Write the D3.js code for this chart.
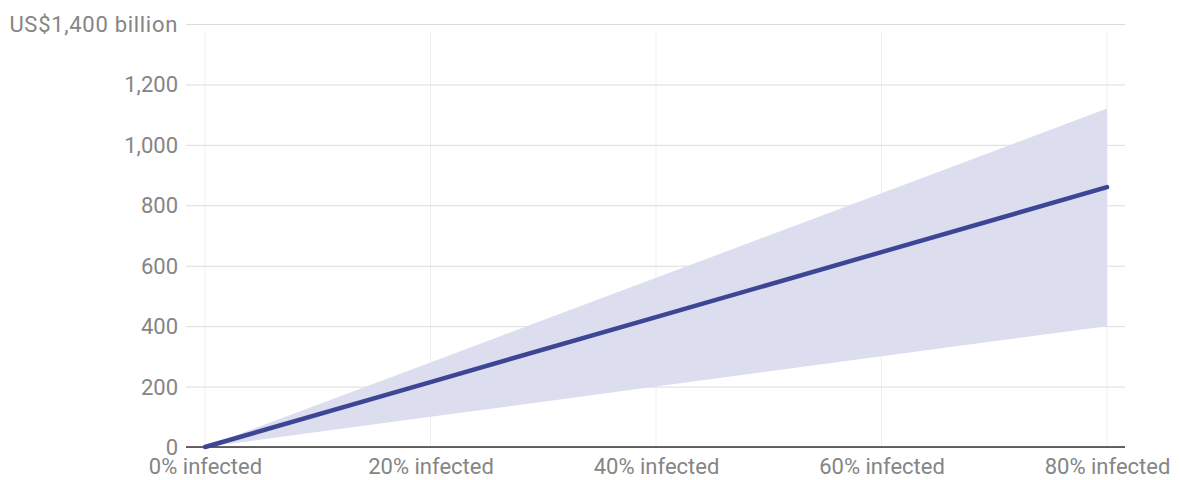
<!DOCTYPE html>
<html>
<head>
<meta charset="utf-8">
<script src="https://cdn.jsdelivr.net/npm/d3@7"></script>
<style>
  body { margin: 0; background: #fff; }
  svg text { font-family: Roboto, "Noto Sans", sans-serif; }
</style>
</head>
<body>
<svg id="chart"></svg>
<script>
// share of population infected (%)
const infected = [0, 20, 40, 60, 80];
// cost estimate, US$ billion
const central = [0, 215, 430, 645, 860];
const upper = [0, 280, 560, 840, 1120];
const lower = [0, 100, 200, 300, 400];
const yTicks = [0, 200, 400, 600, 800, 1000, 1200, 1400];

const width = 1180, height = 480;
const margin = { top: 24, right: 55, bottom: 33, left: 186 };

const svg = d3.select('#chart')
    .attr('width', width)
    .attr('height', height);

const data = infected.map((d, i) => ({ x: d, mid: central[i], hi: upper[i], lo: lower[i] }));

// plot starts a bit right of the grid start
const xScale = d3.scaleLinear()
    .domain([0, 80])
    .range([205, 1107]);

const yScale = d3.scaleLinear()
    .domain([0, 1400])
    .range([height - margin.bottom, margin.top]);

const gridLeft = margin.left, gridRight = width - margin.right;

// vertical grid
svg.append('g')
    .selectAll('line')
    .data(infected)
    .join('line')
    .attr('x1', d => xScale(d)).attr('x2', d => xScale(d))
    .attr('y1', yScale(1400) + 8).attr('y2', yScale(0))
    .attr('stroke', '#efefef')
    .attr('stroke-width', 1);

// horizontal grid + labels
const yAxis = svg.append('g')
    .attr('transform', `translate(${gridLeft},0)`)
    .call(d3.axisLeft(yScale)
        .tickValues(yTicks)
        .tickSize(-(gridRight - gridLeft))
        .tickPadding(8)
        .tickFormat(d => d === 1400 ? 'US$1,400 billion' : d3.format(',')(d)));
yAxis.select('.domain').remove();
yAxis.selectAll('.tick line').attr('stroke', '#dcdcdc');
yAxis.selectAll('.tick text')
    .attr('fill', '#858585')
    .style('font-size', '22px')
    .attr('dy', '0.34em');
// top label is spaced a little wider in the original
yAxis.selectAll('.tick text')
    .filter(d => d === 1400)
    .style('letter-spacing', '0.7px');

// uncertainty band
svg.append('path')
    .datum(data)
    .attr('fill', '#dcdeef')
    .attr('d', d3.area()
        .x(d => xScale(d.x))
        .y0(d => yScale(d.lo))
        .y1(d => yScale(d.hi)));

// baseline
svg.append('line')
    .attr('x1', gridLeft).attr('x2', gridRight)
    .attr('y1', yScale(0)).attr('y2', yScale(0))
    .attr('stroke', '#333')
    .attr('stroke-width', 1.5);

// central estimate
svg.append('path')
    .datum(data)
    .attr('fill', 'none')
    .attr('stroke', '#3d4595')
    .attr('stroke-width', 4.5)
    .attr('stroke-linecap', 'round')
    .attr('d', d3.line()
        .x(d => xScale(d.x))
        .y(d => yScale(d.mid)));

// x axis labels
const xAxis = svg.append('g')
    .attr('transform', `translate(0,${yScale(0)})`)
    .call(d3.axisBottom(xScale)
        .tickValues(infected)
        .tickSize(0)
        .tickPadding(11)
        .tickFormat(d => d + '% infected'));
xAxis.select('.domain').remove();
xAxis.selectAll('.tick text')
    .attr('fill', '#858585')
    .style('font-size', '22px');
</script>
</body>
</html>
